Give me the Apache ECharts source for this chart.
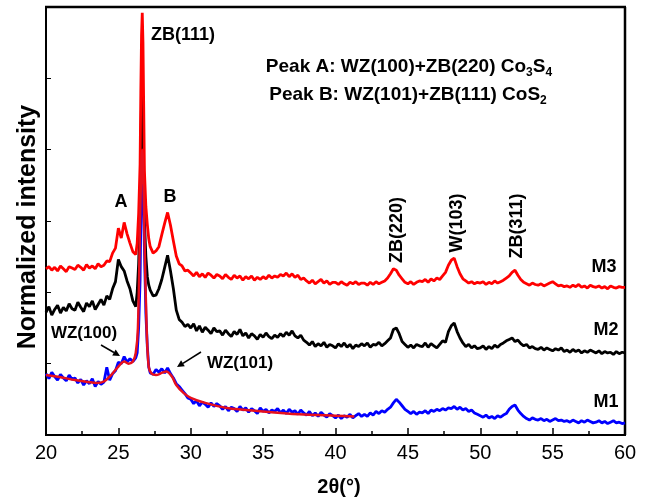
<!DOCTYPE html>
<html>
<head>
<meta charset="utf-8">
<script src="https://cdn.jsdelivr.net/npm/echarts@6.0.0/dist/echarts.min.js"></script>
<style>
  html, body { margin: 0; padding: 0; background: #fff; }
  #chart { width: 646px; height: 500px; }
</style>
</head>
<body>
<div id="chart"></div>
<script>
// 2θ sampling positions (shared by the three patterns)
const twoTheta = [
  20.0, 20.2, 20.4, 20.6, 20.8, 21.0, 21.2, 21.4, 21.6, 21.8,
  22.0, 22.2, 22.4, 22.6, 22.8, 23.0, 23.2, 23.4, 23.6, 23.8,
  24.0, 24.2, 24.4, 24.6, 24.8, 25.0, 25.2, 25.4, 25.6, 25.8,
  26.0, 26.2, 26.3, 26.4, 26.5, 26.55, 26.6, 26.65, 26.7,
  26.75, 26.8, 26.9, 27.0, 27.1, 27.2, 27.4, 27.6, 27.8,
  28.0, 28.2, 28.4, 28.6, 28.8, 29.0, 29.2, 29.4, 29.6, 29.8,
  30.0, 30.2, 30.4, 30.6, 30.8, 31.0, 31.2, 31.4, 31.6, 31.8,
  32.0, 32.2, 32.4, 32.6, 32.8, 33.0, 33.2, 33.4, 33.6, 33.8,
  34.0, 34.2, 34.4, 34.6, 34.8, 35.0, 35.2, 35.4, 35.6, 35.8,
  36.0, 36.2, 36.4, 36.6, 36.8, 37.0, 37.2, 37.4, 37.6, 37.8,
  38.0, 38.2, 38.4, 38.6, 38.8, 39.0, 39.2, 39.4, 39.6, 39.8,
  40.0, 40.2, 40.4, 40.6, 40.8, 41.0, 41.2, 41.4, 41.6, 41.8,
  42.0, 42.2, 42.4, 42.6, 42.8, 43.0, 43.2, 43.4, 43.6, 43.8,
  44.0, 44.2, 44.4, 44.6, 44.8, 45.0, 45.2, 45.4, 45.6, 45.8,
  46.0, 46.2, 46.4, 46.6, 46.8, 47.0, 47.2, 47.4, 47.6, 47.8,
  48.0, 48.2, 48.4, 48.6, 48.8, 49.0, 49.2, 49.4, 49.6, 49.8,
  50.0, 50.2, 50.4, 50.6, 50.8, 51.0, 51.2, 51.4, 51.6, 51.8,
  52.0, 52.2, 52.4, 52.6, 52.8, 53.0, 53.2, 53.4, 53.6, 53.8,
  54.0, 54.2, 54.4, 54.6, 54.8, 55.0, 55.2, 55.4, 55.6, 55.8,
  56.0, 56.2, 56.4, 56.6, 56.8, 57.0, 57.2, 57.4, 57.6, 57.8,
  58.0, 58.2, 58.4, 58.6, 58.8, 59.0, 59.2, 59.4, 59.6, 59.8,
  60.0
]

// M3 (red), offset pattern
const m3 = [
  2.33, 2.36, 2.31, 2.35, 2.30, 2.37, 2.33, 2.29, 2.36, 2.34,
  2.32, 2.38, 2.35, 2.31, 2.39, 2.34, 2.37, 2.33, 2.40, 2.36,
  2.38, 2.44, 2.43, 2.55, 2.62, 2.90, 2.76, 2.98, 2.82, 2.69,
  2.57, 2.53, 2.69, 3.10, 3.80, 4.80, 5.60, 5.92, 5.50,
  4.60, 3.70, 3.20, 2.95, 2.75, 2.64, 2.55, 2.58, 2.64,
  2.81, 2.97, 3.12, 2.94, 2.72, 2.51, 2.40, 2.37, 2.30, 2.31,
  2.27, 2.23, 2.28, 2.22, 2.26, 2.21, 2.27, 2.24, 2.20, 2.25,
  2.23, 2.19, 2.25, 2.21, 2.18, 2.24, 2.20, 2.23, 2.17, 2.22,
  2.19, 2.23, 2.17, 2.21, 2.18, 2.22, 2.19, 2.24, 2.20, 2.23,
  2.21, 2.25, 2.23, 2.27, 2.22, 2.26, 2.21, 2.24, 2.18, 2.20,
  2.16, 2.13, 2.17, 2.12, 2.15, 2.18, 2.13, 2.16, 2.11, 2.14,
  2.14, 2.11, 2.15, 2.12, 2.10, 2.14, 2.12, 2.15, 2.11, 2.13,
  2.13, 2.10, 2.14, 2.11, 2.15, 2.12, 2.14, 2.16, 2.20, 2.26,
  2.33, 2.31, 2.24, 2.19, 2.14, 2.12, 2.15, 2.11, 2.14, 2.16,
  2.15, 2.18, 2.14, 2.19, 2.16, 2.20, 2.18, 2.23, 2.28, 2.38,
  2.45, 2.48, 2.36, 2.26, 2.19, 2.16, 2.13, 2.15, 2.12, 2.14,
  2.13, 2.15, 2.11, 2.14, 2.12, 2.16, 2.13, 2.15, 2.17, 2.20,
  2.23, 2.28, 2.31, 2.24, 2.18, 2.14, 2.12, 2.10, 2.13, 2.11,
  2.10, 2.12, 2.09, 2.11, 2.13, 2.15, 2.12, 2.09, 2.10, 2.08,
  2.09, 2.07, 2.10, 2.08, 2.11, 2.07, 2.09, 2.06, 2.10, 2.08,
  2.07, 2.09, 2.06, 2.08, 2.05, 2.09, 2.07, 2.06, 2.08, 2.07,
  2.07
]

// M2 (black)
const m2 = [
  1.72, 1.80, 1.68, 1.76, 1.82, 1.71, 1.79, 1.74, 1.84, 1.77,
  1.75, 1.86, 1.79, 1.73, 1.85, 1.80, 1.88, 1.76, 1.83, 1.90,
  1.82, 1.95, 1.90, 2.05, 2.15, 2.46, 2.36, 2.30, 2.16, 2.05,
  1.88, 1.80, 2.00, 2.40, 3.10, 4.00, 4.70, 4.94, 4.50,
  3.70, 3.00, 2.50, 2.22, 2.10, 2.03, 1.95, 1.96, 2.05,
  2.18, 2.35, 2.52, 2.30, 2.05, 1.75, 1.62, 1.58, 1.52, 1.55,
  1.50, 1.56, 1.46, 1.53, 1.44, 1.51, 1.47, 1.42, 1.50, 1.45,
  1.46, 1.40, 1.47, 1.42, 1.38, 1.45, 1.41, 1.48, 1.39, 1.43,
  1.36, 1.42, 1.39, 1.34, 1.41, 1.37, 1.43, 1.38, 1.35, 1.40,
  1.37, 1.42, 1.38, 1.44, 1.40, 1.46, 1.39, 1.36, 1.40, 1.33,
  1.30, 1.26, 1.31, 1.24, 1.28, 1.25, 1.30, 1.23, 1.27, 1.25,
  1.22, 1.28, 1.24, 1.29, 1.23, 1.27, 1.21, 1.26, 1.24, 1.28,
  1.25, 1.29, 1.23, 1.27, 1.26, 1.30, 1.25, 1.28, 1.32, 1.36,
  1.48, 1.50, 1.42, 1.31, 1.27, 1.23, 1.26, 1.22, 1.27, 1.25,
  1.24, 1.29, 1.23, 1.28, 1.25, 1.22, 1.27, 1.32, 1.30, 1.45,
  1.53, 1.57, 1.45, 1.36, 1.29, 1.24, 1.27, 1.22, 1.25, 1.21,
  1.22, 1.25, 1.20, 1.24, 1.21, 1.26, 1.23, 1.27, 1.29, 1.32,
  1.34, 1.36, 1.31, 1.33, 1.28, 1.25, 1.27, 1.22, 1.24, 1.21,
  1.20, 1.23, 1.19, 1.22, 1.20, 1.18, 1.21, 1.19, 1.22, 1.17,
  1.19, 1.16, 1.20, 1.17, 1.19, 1.15, 1.18, 1.16, 1.19, 1.17,
  1.15, 1.18, 1.14, 1.17, 1.15, 1.16, 1.13, 1.17, 1.14, 1.16,
  1.15
]

// M1 (blue)
const m1 = [
  0.86, 0.79, 0.88, 0.82, 0.77, 0.85, 0.80, 0.76, 0.84, 0.78,
  0.80, 0.73, 0.78, 0.70, 0.76, 0.72, 0.79, 0.68, 0.75, 0.71,
  0.74, 0.95, 0.77, 0.86, 0.90, 1.02, 1.00, 1.10, 1.02, 1.07,
  1.03, 1.08, 1.15, 1.50, 2.17, 3.00, 3.70, 3.97, 3.60,
  3.10, 2.60, 1.70, 1.24, 0.95, 0.87, 0.85, 0.92, 0.88,
  0.93, 0.87, 0.94, 0.86, 0.80, 0.72, 0.68, 0.63, 0.58, 0.52,
  0.50, 0.44, 0.48, 0.41, 0.46, 0.43, 0.39, 0.45, 0.40, 0.44,
  0.41, 0.36, 0.40, 0.34, 0.39, 0.37, 0.33, 0.40, 0.35, 0.38,
  0.32, 0.37, 0.34, 0.30, 0.38, 0.33, 0.36, 0.31, 0.35, 0.33,
  0.37, 0.31, 0.35, 0.30, 0.36, 0.32, 0.34, 0.29, 0.35, 0.31,
  0.28, 0.33, 0.27, 0.31, 0.26, 0.32, 0.28, 0.25, 0.30, 0.27,
  0.24, 0.28, 0.23, 0.27, 0.25, 0.29, 0.24, 0.27, 0.30, 0.26,
  0.29, 0.26, 0.31, 0.28, 0.33, 0.30, 0.34, 0.32, 0.36, 0.39,
  0.45, 0.50, 0.46, 0.41, 0.36, 0.33, 0.30, 0.33, 0.29, 0.32,
  0.31, 0.34, 0.30, 0.35, 0.33, 0.36, 0.34, 0.37, 0.35, 0.38,
  0.37, 0.40, 0.36, 0.39, 0.35, 0.37, 0.33, 0.35, 0.31, 0.29,
  0.27, 0.25, 0.28, 0.24, 0.26, 0.23, 0.27, 0.25, 0.28, 0.30,
  0.36, 0.40, 0.42, 0.35, 0.30, 0.26, 0.23, 0.21, 0.24, 0.22,
  0.21, 0.23, 0.20, 0.22, 0.19, 0.21, 0.23, 0.20, 0.21, 0.19,
  0.20, 0.18, 0.21, 0.19, 0.17, 0.20, 0.18, 0.21, 0.19, 0.17,
  0.18, 0.20, 0.17, 0.19, 0.16, 0.18, 0.20, 0.17, 0.18, 0.16,
  0.17
]

// smooth fitted curve over M1 (red)
const fitTheta = [20, 21, 22, 23, 23.5, 24, 24.5, 25, 25.4, 25.7, 26.0, 26.2, 26.35, 26.5, 26.6, 26.65, 26.7, 26.8, 26.95, 27.1, 27.3, 27.6, 28.0, 28.3, 28.7, 29.0, 29.5, 30, 31, 32.5, 35, 37.5, 40, 41.3]
const fitValues = [0.84, 0.81, 0.77, 0.74, 0.73, 0.75, 0.84, 0.96, 1.03, 1.00, 1.03, 1.15, 1.50, 3.00, 3.90, 4.00, 3.80, 2.80, 1.50, 0.95, 0.86, 0.84, 0.87, 0.89, 0.82, 0.70, 0.59, 0.52, 0.45, 0.38, 0.33, 0.29, 0.27, 0.26]

const xTicks = [20, 25, 30, 35, 40, 45, 50, 55, 60]

const font = "'Liberation Sans', Arial, sans-serif"
const W = 646, H = 500
const GRID = { left: 46, right: 21, top: 7, bottom: 65 }

function pairs(xs, ys) {
  return xs.map((x, i) => [x, ys[i]])
}

function txt(text, x, y, size, extra) {
  return Object.assign({
    type: "text",
    x: x,
    y: y,
    style: {
      text: text,
      fontFamily: font,
      fontWeight: "bold",
      fontSize: size,
      fill: "#000",
      align: "center",
      verticalAlign: "middle"
    }
  }, extra || {})
}

function vtxt(text, x, y, size) {
  return txt(text, x, y, size, { rotation: Math.PI / 2 })
}

function seg(x1, y1, x2, y2, w) {
  return { type: "line", shape: { x1: x1, y1: y1, x2: x2, y2: y2 }, style: { stroke: "#000", lineWidth: w } }
}

// line with a filled head at (x2, y2)
function arrow(x1, y1, x2, y2) {
  const a = Math.atan2(y2 - y1, x2 - x1)
  const L = 7, Wd = 3.5
  const bx = x2 - L * Math.cos(a), by = y2 - L * Math.sin(a)
  const px = -Math.sin(a) * Wd, py = Math.cos(a) * Wd
  return {
    type: "group",
    children: [
      seg(x1, y1, bx, by, 1.5),
      { type: "polygon", shape: { points: [[x2, y2], [bx + px, by + py], [bx - px, by - py]] }, style: { fill: "#000" } }
    ]
  }
}

// top and right edges of the plot box
const fx0 = GRID.left, fx1 = W - GRID.right, fy0 = GRID.top, fy1 = H - GRID.bottom
const frame = {
  type: "group",
  children: [
    seg(fx0 - 1, fy0, fx1 + 1, fy0, 2.5),
    seg(fx1, fy0, fx1, fy1, 2.5)
  ]
}

const subRich = {
  n: { fontFamily: font, fontWeight: "bold", fontSize: 19, lineHeight: 24, fill: "#000" },
  s: { fontFamily: font, fontWeight: "bold", fontSize: 12, lineHeight: 12, verticalAlign: "bottom", fill: "#000" }
}

const chart = echarts.init(document.getElementById("chart"), null, { renderer: "canvas" })

const option = {
  animation: false,
  backgroundColor: "#fff",
  grid: Object.assign({ show: true, borderColor: "#000", borderWidth: 2 }, GRID),
  xAxis: {
    type: "value",
    min: 20, max: 60, interval: 5,
    axisLine: { show: true, onZero: false, lineStyle: { color: "#000", width: 2 } },
    splitLine: { show: false },
    axisTick: { inside: true, length: 7, lineStyle: { color: "#000", width: 1.5 } },
    minorTick: { show: true, splitNumber: 2, length: 4, lineStyle: { color: "#000", width: 1.5 } },
    axisLabel: {
      margin: 8, fontSize: 20, color: "#000", fontFamily: font,
      formatter: v => xTicks.includes(v) ? String(v) : ""
    }
  },
  yAxis: {
    type: "value",
    min: 0, max: 6, interval: 1,
    axisLine: { show: true, onZero: false, lineStyle: { color: "#000", width: 2 } },
    splitLine: { show: false },
    axisTick: { show: true, inside: true, length: 5, lineStyle: { color: "#000", width: 1 } },
    axisLabel: { show: false }
  },
  series: [
    {
      name: "M2", type: "line", showSymbol: false, z: 2,
      lineStyle: { color: "#000000", width: 2.8 },
      data: pairs(twoTheta, m2)
    },
    {
      name: "M1", type: "line", showSymbol: false, z: 3,
      lineStyle: { color: "#0000ff", width: 2.8 },
      data: pairs(twoTheta, m1)
    },
    {
      name: "M3", type: "line", showSymbol: false, z: 4,
      lineStyle: { color: "#ff0000", width: 2.8 },
      data: pairs(twoTheta, m3)
    },
    {
      name: "fit", type: "line", showSymbol: false, z: 5, smooth: 0.3,
      lineStyle: { color: "#e8101c", width: 2.5 },
      data: pairs(fitTheta, fitValues)
    }
  ],
  graphic: [
    frame,
    vtxt("Normalized intensity", 28, 227, 25),
    txt("2θ(°)", 339, 487, 20),
    txt("ZB(111)", 183, 35, 18),
    {
      type: "text", x: 409, y: 67,
      style: {
        text: "{n|Peak A: WZ(100)+ZB(220) Co}{s|3}{n|S}{s|4}",
        align: "center", verticalAlign: "middle",
        rich: subRich
      }
    },
    {
      type: "text", x: 408, y: 95,
      style: {
        text: "{n|Peak B: WZ(101)+ZB(111) CoS}{s|2}",
        align: "center", verticalAlign: "middle",
        rich: subRich
      }
    },
    txt("A", 121, 202, 18),
    txt("B", 170, 197, 18),
    vtxt("ZB(220)", 397, 230, 18),
    vtxt("W(103)", 457, 223, 18),
    vtxt("ZB(311)", 517, 226, 18),
    txt("M3", 604, 267, 18),
    txt("M2", 606, 330, 18),
    txt("M1", 606, 402, 18),
    txt("WZ(100)", 84, 333, 17),
    txt("WZ(101)", 240, 363, 17),
    arrow(101, 345, 120, 356),
    arrow(201, 352, 177, 367)
  ]
}

chart.setOption(option)
</script>
</body>
</html>
